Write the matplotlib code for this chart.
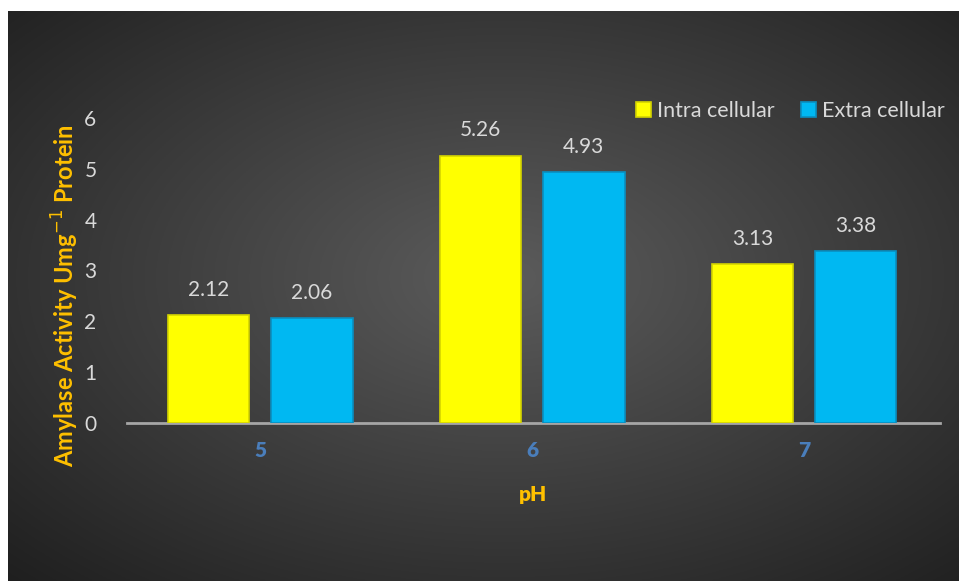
import matplotlib.pyplot as plt
import numpy as np

plt.rcParams['font.family'] = ['Lato', 'DejaVu Sans']

# 数据
ph = ['5', '6', '7']
intra = [2.12, 5.26, 3.13]
extra = [2.06, 4.93, 3.38]

fig = plt.figure(figsize=(9.59, 5.81), dpi=100)
fig.patch.set_facecolor('white')

# 背景：径向渐变
bg = fig.add_axes([8/959, 0, 1 - 8/959, 1 - 11/581])
yy, xx = np.mgrid[0:300, 0:500]
cx, cy = 260, 140
r = np.sqrt(((xx - cx) / 500) ** 2 + ((yy - cy) / 300) ** 2)
shade = 0.36 - 0.24 * np.clip(r / 0.75, 0, 1)
bg.imshow(np.dstack([shade, shade, shade]), aspect='auto', extent=[0, 1, 0, 1])
bg.set_axis_off()

ax = fig.add_axes([127/959, 1 - 423/581, (940 - 127)/959, (423 - 118)/581])
ax.set_facecolor('none')

x = np.arange(len(ph))
w = 0.30
off = 0.19
b1 = ax.bar(x - off, intra, w, color='#FFFF00', edgecolor='#d4d400', linewidth=1.2,
            label='Intra cellular', zorder=3)
b2 = ax.bar(x + off, extra, w, color='#00B8F2', edgecolor='#0a8fc0', linewidth=1.2,
            label='Extra cellular', zorder=3)

for bars, vals in [(b1, intra), (b2, extra)]:
    for b, v in zip(bars, vals):
        ax.text(b.get_x() + b.get_width() / 2, v + 0.3, f'{v:.2f}',
                ha='center', va='bottom', color='#d9d9d9', fontsize=15)

ax.set_xlim(-0.49, 2.5)
ax.set_ylim(0, 6)
ax.set_xticks(x)
ax.set_xticklabels(ph, color='#4a7ebb', fontsize=15, fontweight='heavy')
ax.set_yticks(range(7))
ax.set_yticklabels([str(i) for i in range(7)], color='#d9d9d9', fontsize=15)
ax.tick_params(length=0)
ax.tick_params(axis='x', pad=13)
ax.tick_params(axis='y', pad=22)

for s in ['top', 'right', 'left']:
    ax.spines[s].set_visible(False)
ax.spines['bottom'].set_color('#a6a6a6')
ax.spines['bottom'].set_linewidth(2)

ax.set_xlabel('pH', color='#FFC000', fontsize=15, fontweight='heavy', labelpad=18)
ax.set_ylabel('Amylase Activity Umg$^{-1}$ Protein', color='#FFC000', fontsize=17,
              fontweight='bold')
ax.yaxis.set_label_coords(-0.056, 0.416)

leg = ax.legend(loc='upper right', bbox_to_anchor=(1.03, 1.12), ncol=2, frameon=False,
                fontsize=15.5, handlelength=0.7, handleheight=0.7, handletextpad=0.3,
                columnspacing=1.2)
for t in leg.get_texts():
    t.set_color('#d9d9d9')

plt.savefig('out.png', dpi=100, facecolor=fig.get_facecolor())
